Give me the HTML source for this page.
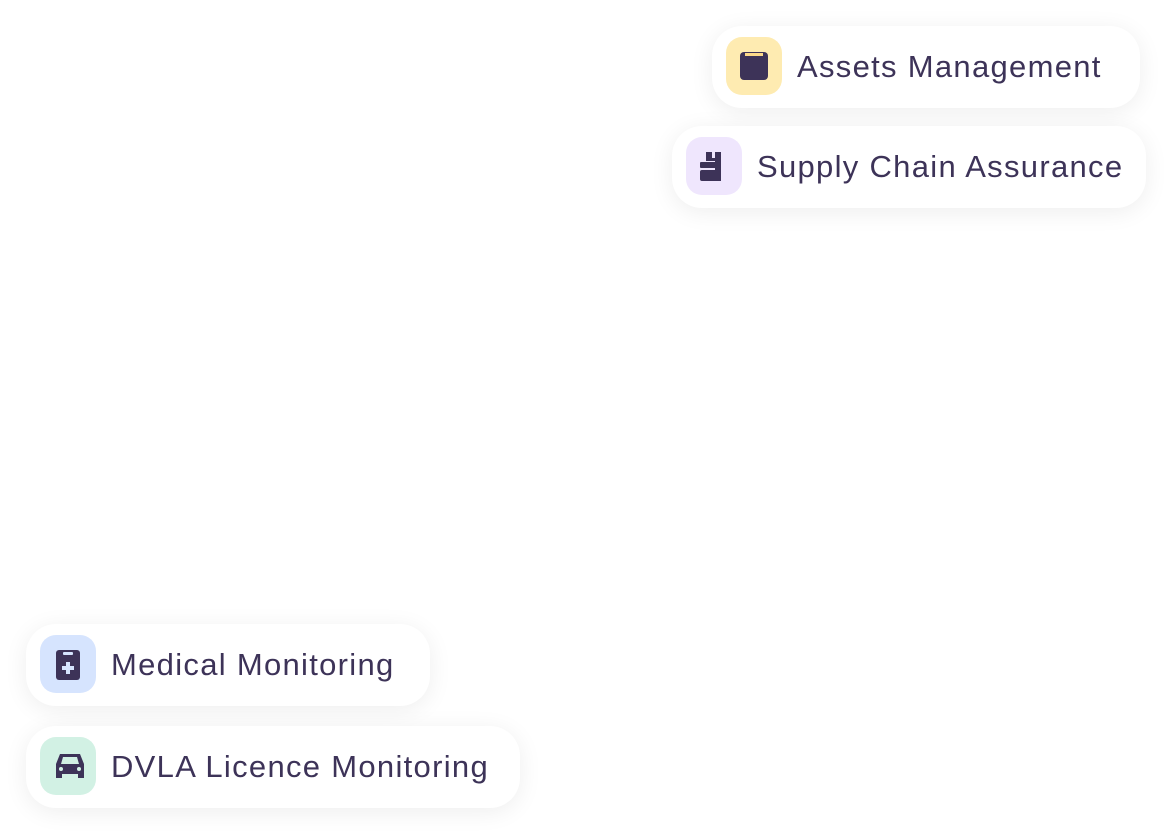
<!DOCTYPE html>
<html><head><meta charset="utf-8"><style>
body{margin:0;width:1176px;height:838px;background:#fff;position:relative;overflow:hidden;font-family:"Liberation Sans",sans-serif}
.p{position:absolute;height:82px;background:#fff;border-radius:30px;box-shadow:0 4px 24px rgba(0,0,0,0.07)}
.i{position:absolute;left:14px;top:11px;width:56px;height:58px;border-radius:16px}
.i svg{position:absolute;left:14px;top:15px}
.t{position:absolute;left:85px;top:23px;font-size:31px;color:#3d3358;white-space:nowrap;letter-spacing:1.3px;line-height:36px}
</style></head><body>
<div class="p" style="left:712px;top:26px;width:428px"><div class="i" style="background:#feebb1"><svg width="28" height="28" viewBox="0 0 28 28"><rect x="0" y="0" width="28" height="28" rx="4" fill="#3d3358"/><rect x="5" y="1" width="18" height="3" fill="#fcd98a"/></svg></div><div class="t">Assets Management</div></div>
<div class="p" style="left:672px;top:126px;width:474px"><div class="i" style="background:#efe6fd"><svg width="30" height="30" viewBox="0 0 30 30"><rect x="0" y="10" width="19" height="6" rx="1" fill="#3d3358"/><rect x="0" y="18" width="19" height="11" rx="2" fill="#3d3358"/><path d="M6 0h6v6h3v-6h6v29h-6v-20h-9z" fill="#3d3358"/></svg></div><div class="t">Supply Chain Assurance</div></div>
<div class="p" style="left:26px;top:624px;width:404px"><div class="i" style="background:#d6e4fe"><svg width="28" height="30" viewBox="0 0 28 30"><rect x="2" y="0" width="24" height="30" rx="3" fill="#3d3358"/><rect x="9" y="2" width="10" height="3" rx="1" fill="#d6e4fe"/><path d="M12 12h4v4h4v4h-4v4h-4v-4h-4v-4h4z" fill="#d6e4fe"/></svg></div><div class="t">Medical Monitoring</div></div>
<div class="p" style="left:26px;top:726px;width:494px"><div class="i" style="background:#d2f1e4"><svg width="32" height="30" viewBox="0 0 32 30"><path d="M6 2h20l4 10v14h-6v-4h-16v4h-6v-14z" fill="#3d3358"/><path d="M9 5h14l2 7h-18z" fill="#d2f1e4"/><circle cx="7" cy="17" r="2" fill="#d2f1e4"/><circle cx="25" cy="17" r="2" fill="#d2f1e4"/></svg></div><div class="t">DVLA Licence Monitoring</div></div>
</body></html>
